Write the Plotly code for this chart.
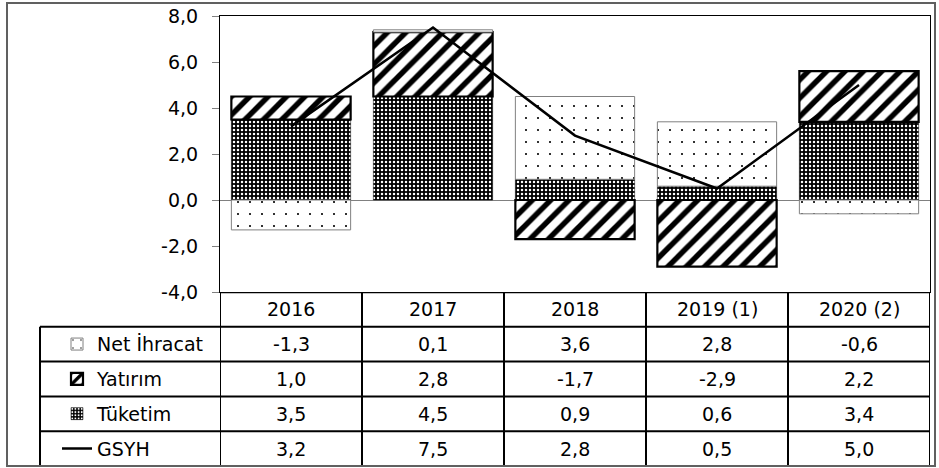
import plotly.graph_objects as go

categories = ["2016", "2017", "2018", "2019 (1)", "2020 (2)"]
net_ihracat = [-1.3, 0.1, 3.6, 2.8, -0.6]
yatirim = [1.0, 2.8, -1.7, -2.9, 2.2]
tuketim = [3.5, 4.5, 0.9, 0.6, 3.4]
gsyh = [3.2, 7.5, 2.8, 0.5, 5.0]
row_labels = ["Net İhracat", "Yatırım", "Tüketim", "GSYH"]
y_ticks = [-4, -2, 0, 2, 4, 6, 8]

FONT = "DejaVu Sans"
FS = 19
W, H = 939, 468
ML, MR, MT, MB = 220, 9, 16, 2
plot_w = W - ML - MR
plot_h = H - MT - MB
table_px = 174
split = table_px / plot_h


def fmt(v):
    return f"{v:.1f}".replace(".", ",")


def px_to_paper_x(px):
    return (px - ML) / plot_w


def px_to_paper_y(py):
    return (H - MB - py) / plot_h


fig = go.Figure()

fig.add_trace(go.Bar(
    x=categories, y=tuketim, name="Tüketim", legend="legend3",
    marker=dict(color="black", line=dict(color="black", width=0.5),
                pattern=dict(shape=".", fgcolor="white", bgcolor="black",
                             fgopacity=1, size=4, solidity=0.3)),
))
fig.add_trace(go.Bar(
    x=categories, y=yatirim, name="Yatırım", legend="legend2",
    marker=dict(color="white", line=dict(color="black", width=2.2),
                pattern=dict(shape="/", fgcolor="black", bgcolor="white",
                             fgopacity=1, size=13, solidity=0.42)),
))
fig.add_trace(go.Bar(
    x=categories, y=net_ihracat, name="Net İhracat", legend="legend",
    marker=dict(color="white", line=dict(color="#808080", width=1),
                pattern=dict(shape=".", fgcolor="black", bgcolor="white",
                             fgopacity=1, size=12, solidity=0.025)),
))
fig.add_trace(go.Scatter(
    x=categories, y=gsyh, name="GSYH", legend="legend4",
    mode="lines", line=dict(color="black", width=2.5),
))

fig.update_layout(
    width=W, height=H,
    margin=dict(l=ML, r=MR, t=MT, b=MB, autoexpand=False),
    barmode="relative", bargap=0.16,
    plot_bgcolor="white", paper_bgcolor="white",
    separators=",.",
    font=dict(family=FONT, size=FS, color="black"),
    xaxis=dict(type="category", range=[-0.5, 4.5], showticklabels=False,
               ticks="", showline=True, linecolor="black", linewidth=1,
               mirror=True, showgrid=False, zeroline=False, anchor="y"),
    yaxis=dict(domain=[split, 1], range=[-4, 8], tickvals=y_ticks,
               ticktext=[fmt(v) for v in y_ticks],
               ticks="outside", ticklen=7, ticklabelstandoff=10,
               tickcolor="#808080", showline=True, linecolor="black",
               linewidth=1, mirror=True, showgrid=False, zeroline=True,
               zerolinecolor="#808080", zerolinewidth=1, anchor="x",
               tickfont=dict(size=FS)),
    yaxis2=dict(domain=[0, split], range=[5, 0], visible=False,
                anchor="x", showgrid=False, zeroline=False),
    showlegend=True,
)

for i, key in enumerate(["legend", "legend2", "legend3", "legend4"]):
    row_center_px = H - MB - table_px + table_px / 5 * (i + 1.5)
    fig.update_layout({key: dict(xref="container", yref="container",
                                 x=57 / W, xanchor="left",
                                 y=1 - row_center_px / H, yanchor="middle",
                                 bgcolor="rgba(0,0,0,0)", borderwidth=0,
                                 font=dict(family=FONT, size=FS))})

shapes = []
left_px = px_to_paper_x(40)
shapes.append(dict(type="line", xref="x", yref="y2", x0=-0.5, x1=4.5, y0=0, y1=0,
                   line=dict(color="black", width=2.5)))
for r in range(1, 6):
    shapes.append(dict(type="line", xref="paper", yref="y2", x0=left_px, x1=1,
                       y0=r, y1=r, line=dict(color="black", width=2)))
for c in range(len(categories) + 1):
    shapes.append(dict(type="line", xref="x", yref="y2", x0=c - 0.5, x1=c - 0.5,
                       y0=0, y1=5, line=dict(color="black", width=2)))
shapes.append(dict(type="line", xref="paper", yref="y2", x0=left_px, x1=left_px,
                   y0=1, y1=5, line=dict(color="black", width=2)))
shapes.append(dict(type="rect", xref="paper", yref="paper",
                   x0=px_to_paper_x(7), x1=px_to_paper_x(935),
                   y0=px_to_paper_y(466), y1=px_to_paper_y(3),
                   line=dict(color="#606060", width=2), fillcolor="rgba(0,0,0,0)",
                   layer="above"))
fig.update_layout(shapes=shapes)

annotations = []
for i, cat in enumerate(categories):
    annotations.append(dict(x=i, y=0.5, xref="x", yref="y2", text=cat,
                            showarrow=False, font=dict(size=FS)))
for r, series in enumerate([net_ihracat, yatirim, tuketim, gsyh], start=1):
    for i in range(len(categories)):
        annotations.append(dict(x=i, y=r + 0.5, xref="x", yref="y2",
                                text=fmt(series[i]), showarrow=False,
                                font=dict(size=FS)))
fig.update_layout(annotations=annotations)

fig.write_html(
    "out.html",
    config={"displayModeBar": False},
    post_script="document.body.style.margin='0';document.body.style.overflow='hidden';",
)
